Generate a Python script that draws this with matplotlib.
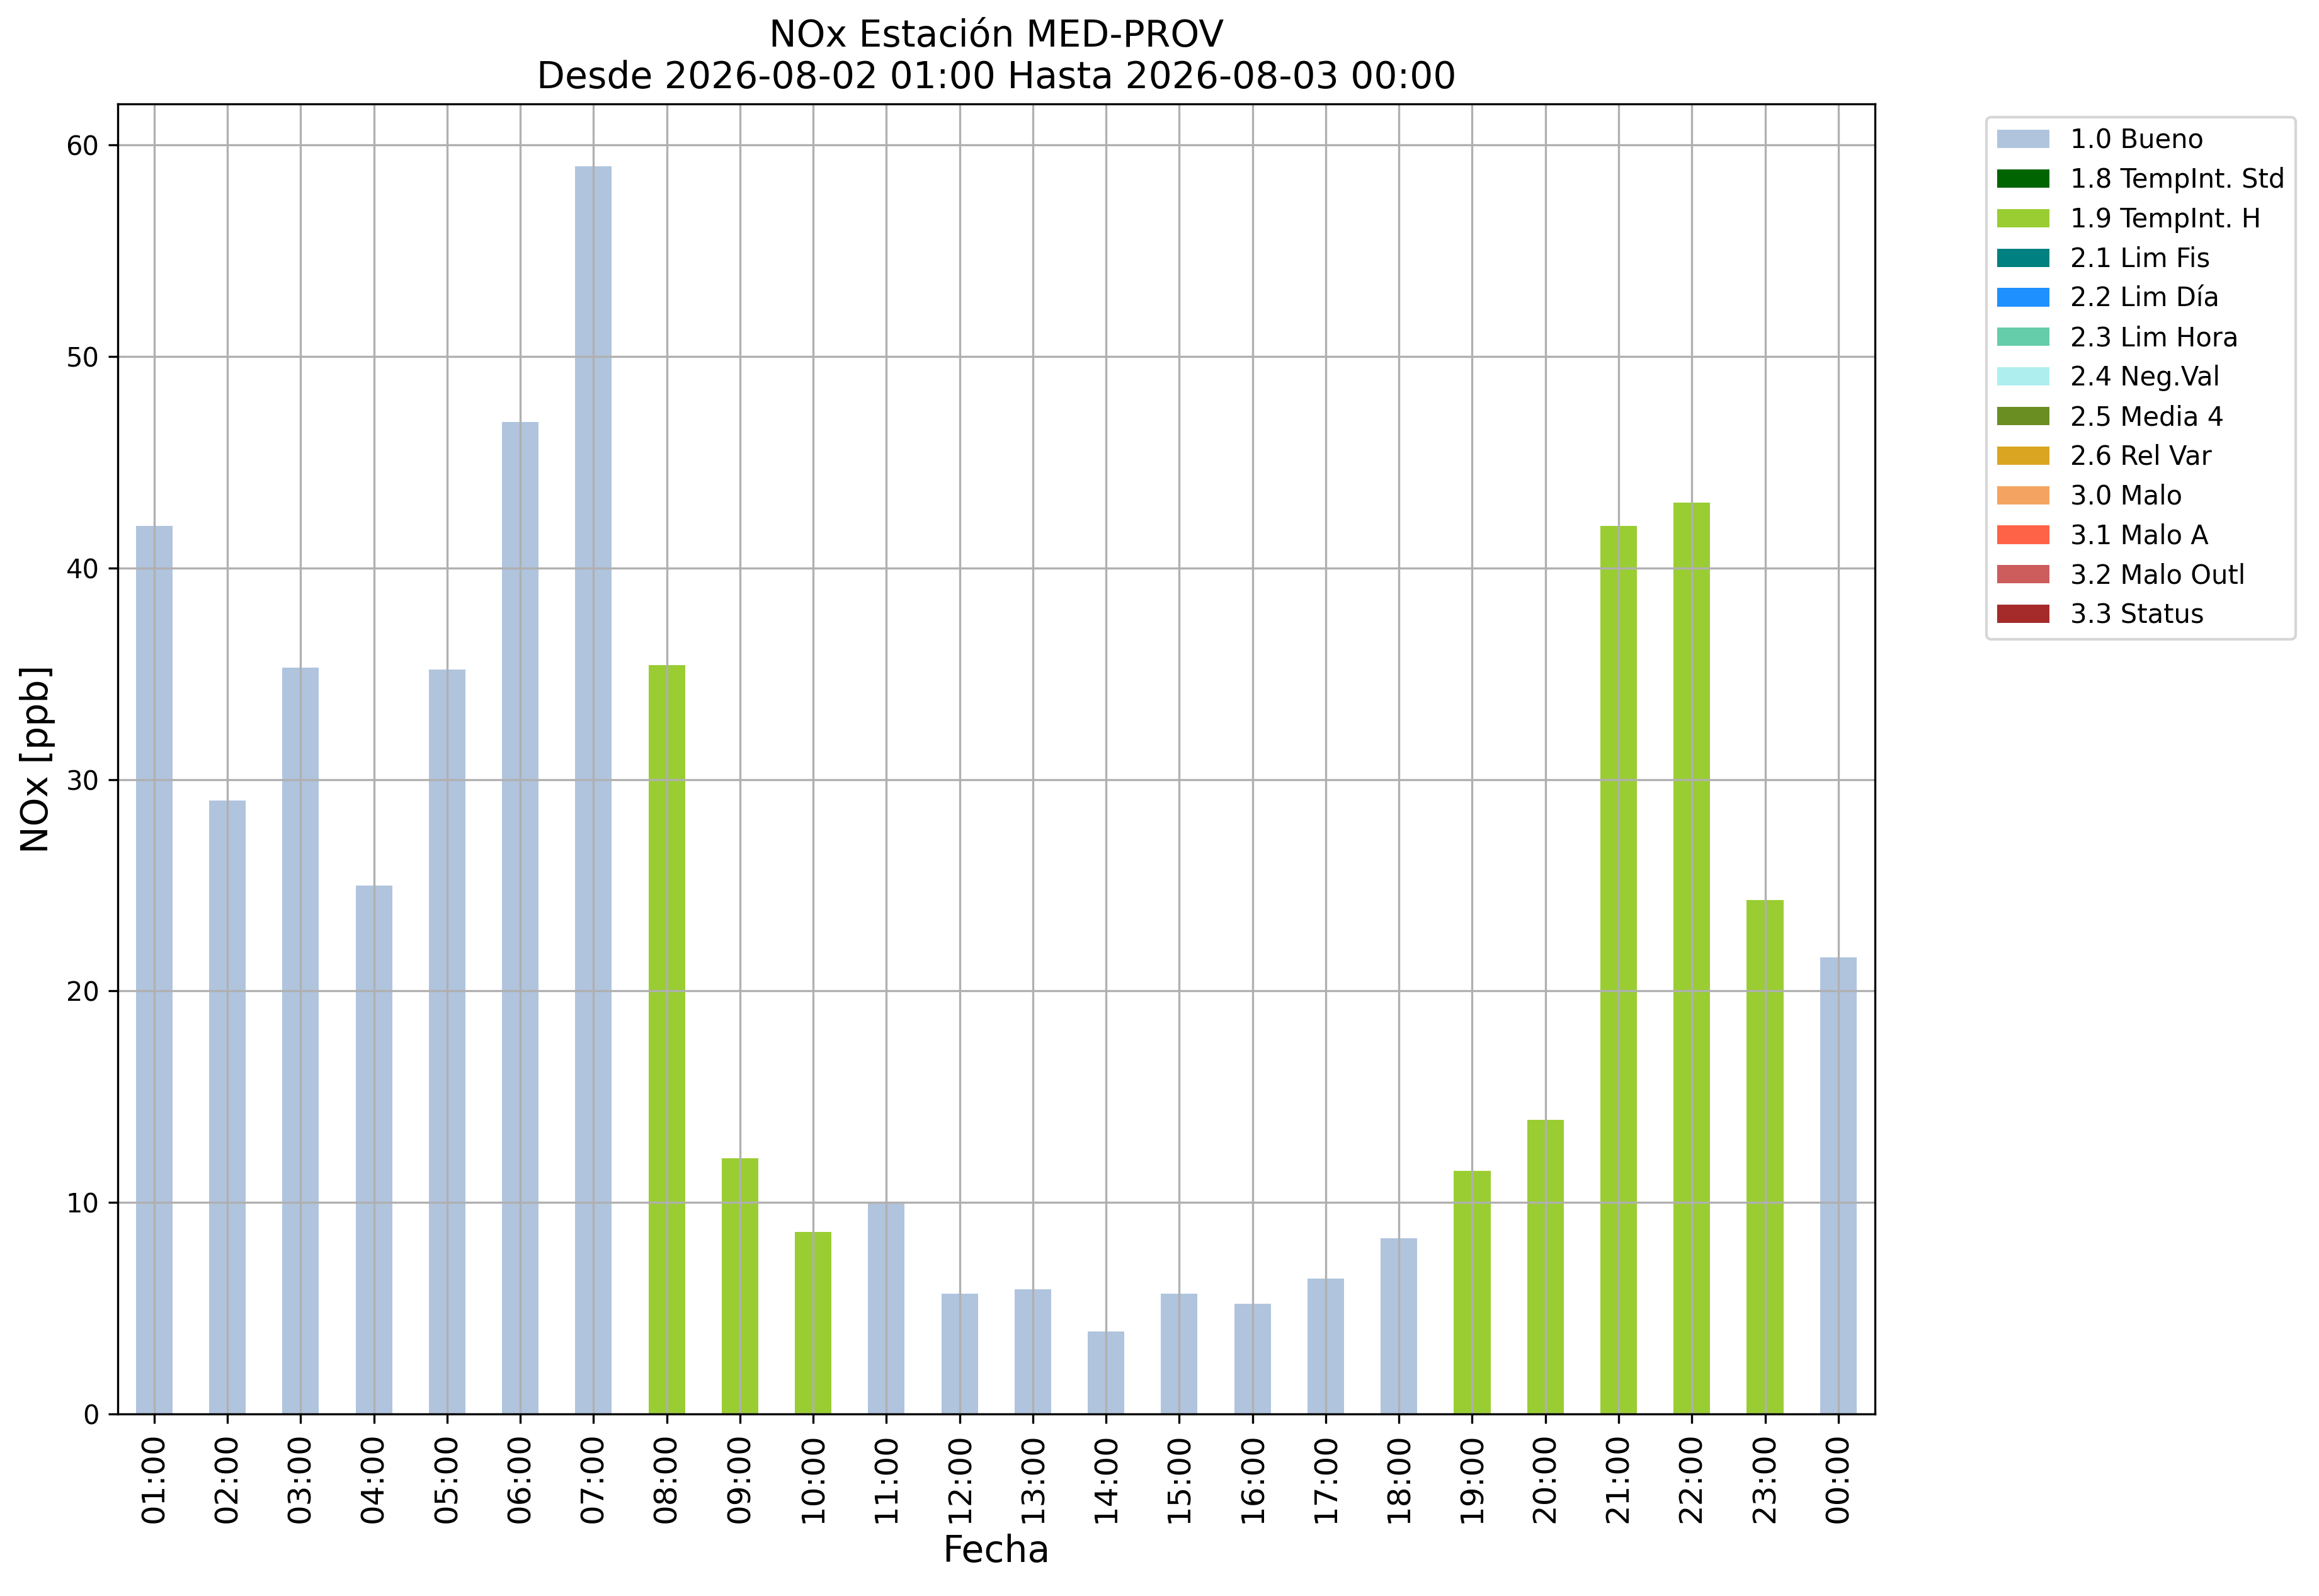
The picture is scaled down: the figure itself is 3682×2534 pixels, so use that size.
import matplotlib
matplotlib.use("Agg")
import matplotlib.pyplot as plt
import pandas as pd

horas = ["01:00", "02:00", "03:00", "04:00", "05:00", "06:00", "07:00", "08:00",
         "09:00", "10:00", "11:00", "12:00", "13:00", "14:00", "15:00", "16:00",
         "17:00", "18:00", "19:00", "20:00", "21:00", "22:00", "23:00", "00:00"]
nox = [42.0, 29.0, 35.3, 25.0, 35.2, 46.9, 59.0, 35.4,
       12.1, 8.6, 10.0, 5.7, 5.9, 3.9, 5.7, 5.2,
       6.4, 8.3, 11.5, 13.9, 42.0, 43.1, 24.3, 21.6]
flag = ["1.0", "1.0", "1.0", "1.0", "1.0", "1.0", "1.0", "1.9",
        "1.9", "1.9", "1.0", "1.0", "1.0", "1.0", "1.0", "1.0",
        "1.0", "1.0", "1.9", "1.9", "1.9", "1.9", "1.9", "1.0"]

codigos = ["1.0", "1.8", "1.9", "2.1", "2.2", "2.3", "2.4", "2.5", "2.6", "3.0", "3.1", "3.2", "3.3"]
nombres = ["1.0 Bueno", "1.8 TempInt. Std", "1.9 TempInt. H", "2.1 Lim Fis", "2.2 Lim Día",
           "2.3 Lim Hora", "2.4 Neg.Val", "2.5 Media 4", "2.6 Rel Var", "3.0 Malo",
           "3.1 Malo A", "3.2 Malo Outl", "3.3 Status"]
colores = ["lightsteelblue", "darkgreen", "yellowgreen", "teal", "dodgerblue",
           "mediumaquamarine", "paleturquoise", "olivedrab", "goldenrod", "sandybrown",
           "tomato", "indianred", "brown"]

# one column per flag, zero where the hour has another flag
df = pd.DataFrame(index=horas)
for c, n in zip(codigos, nombres):
    df[n] = [v if f == c else 0.0 for v, f in zip(nox, flag)]

fig = plt.figure(figsize=(3682 / 300, 2534 / 300), dpi=300)
ax = fig.add_axes([0.0507, 0.114, 0.7578, 0.821])
df.plot(kind="bar", stacked=True, color=colores, ax=ax, width=0.5, legend=False)

ax.grid(True)
ax.set_title("NOx Estación MED-PROV\nDesde 2026-08-02 01:00 Hasta 2026-08-03 00:00", fontsize=14)
ax.set_xlabel("Fecha", fontsize=14)
ax.set_ylabel("NOx [ppb]", fontsize=14)
ax.tick_params(axis="x", labelsize=12, rotation=90)
ax.tick_params(axis="y", labelsize=10)
ax.legend(loc="upper left", bbox_to_anchor=(1.056, 1), fontsize=10)

fig.savefig("out.png", dpi=300)
